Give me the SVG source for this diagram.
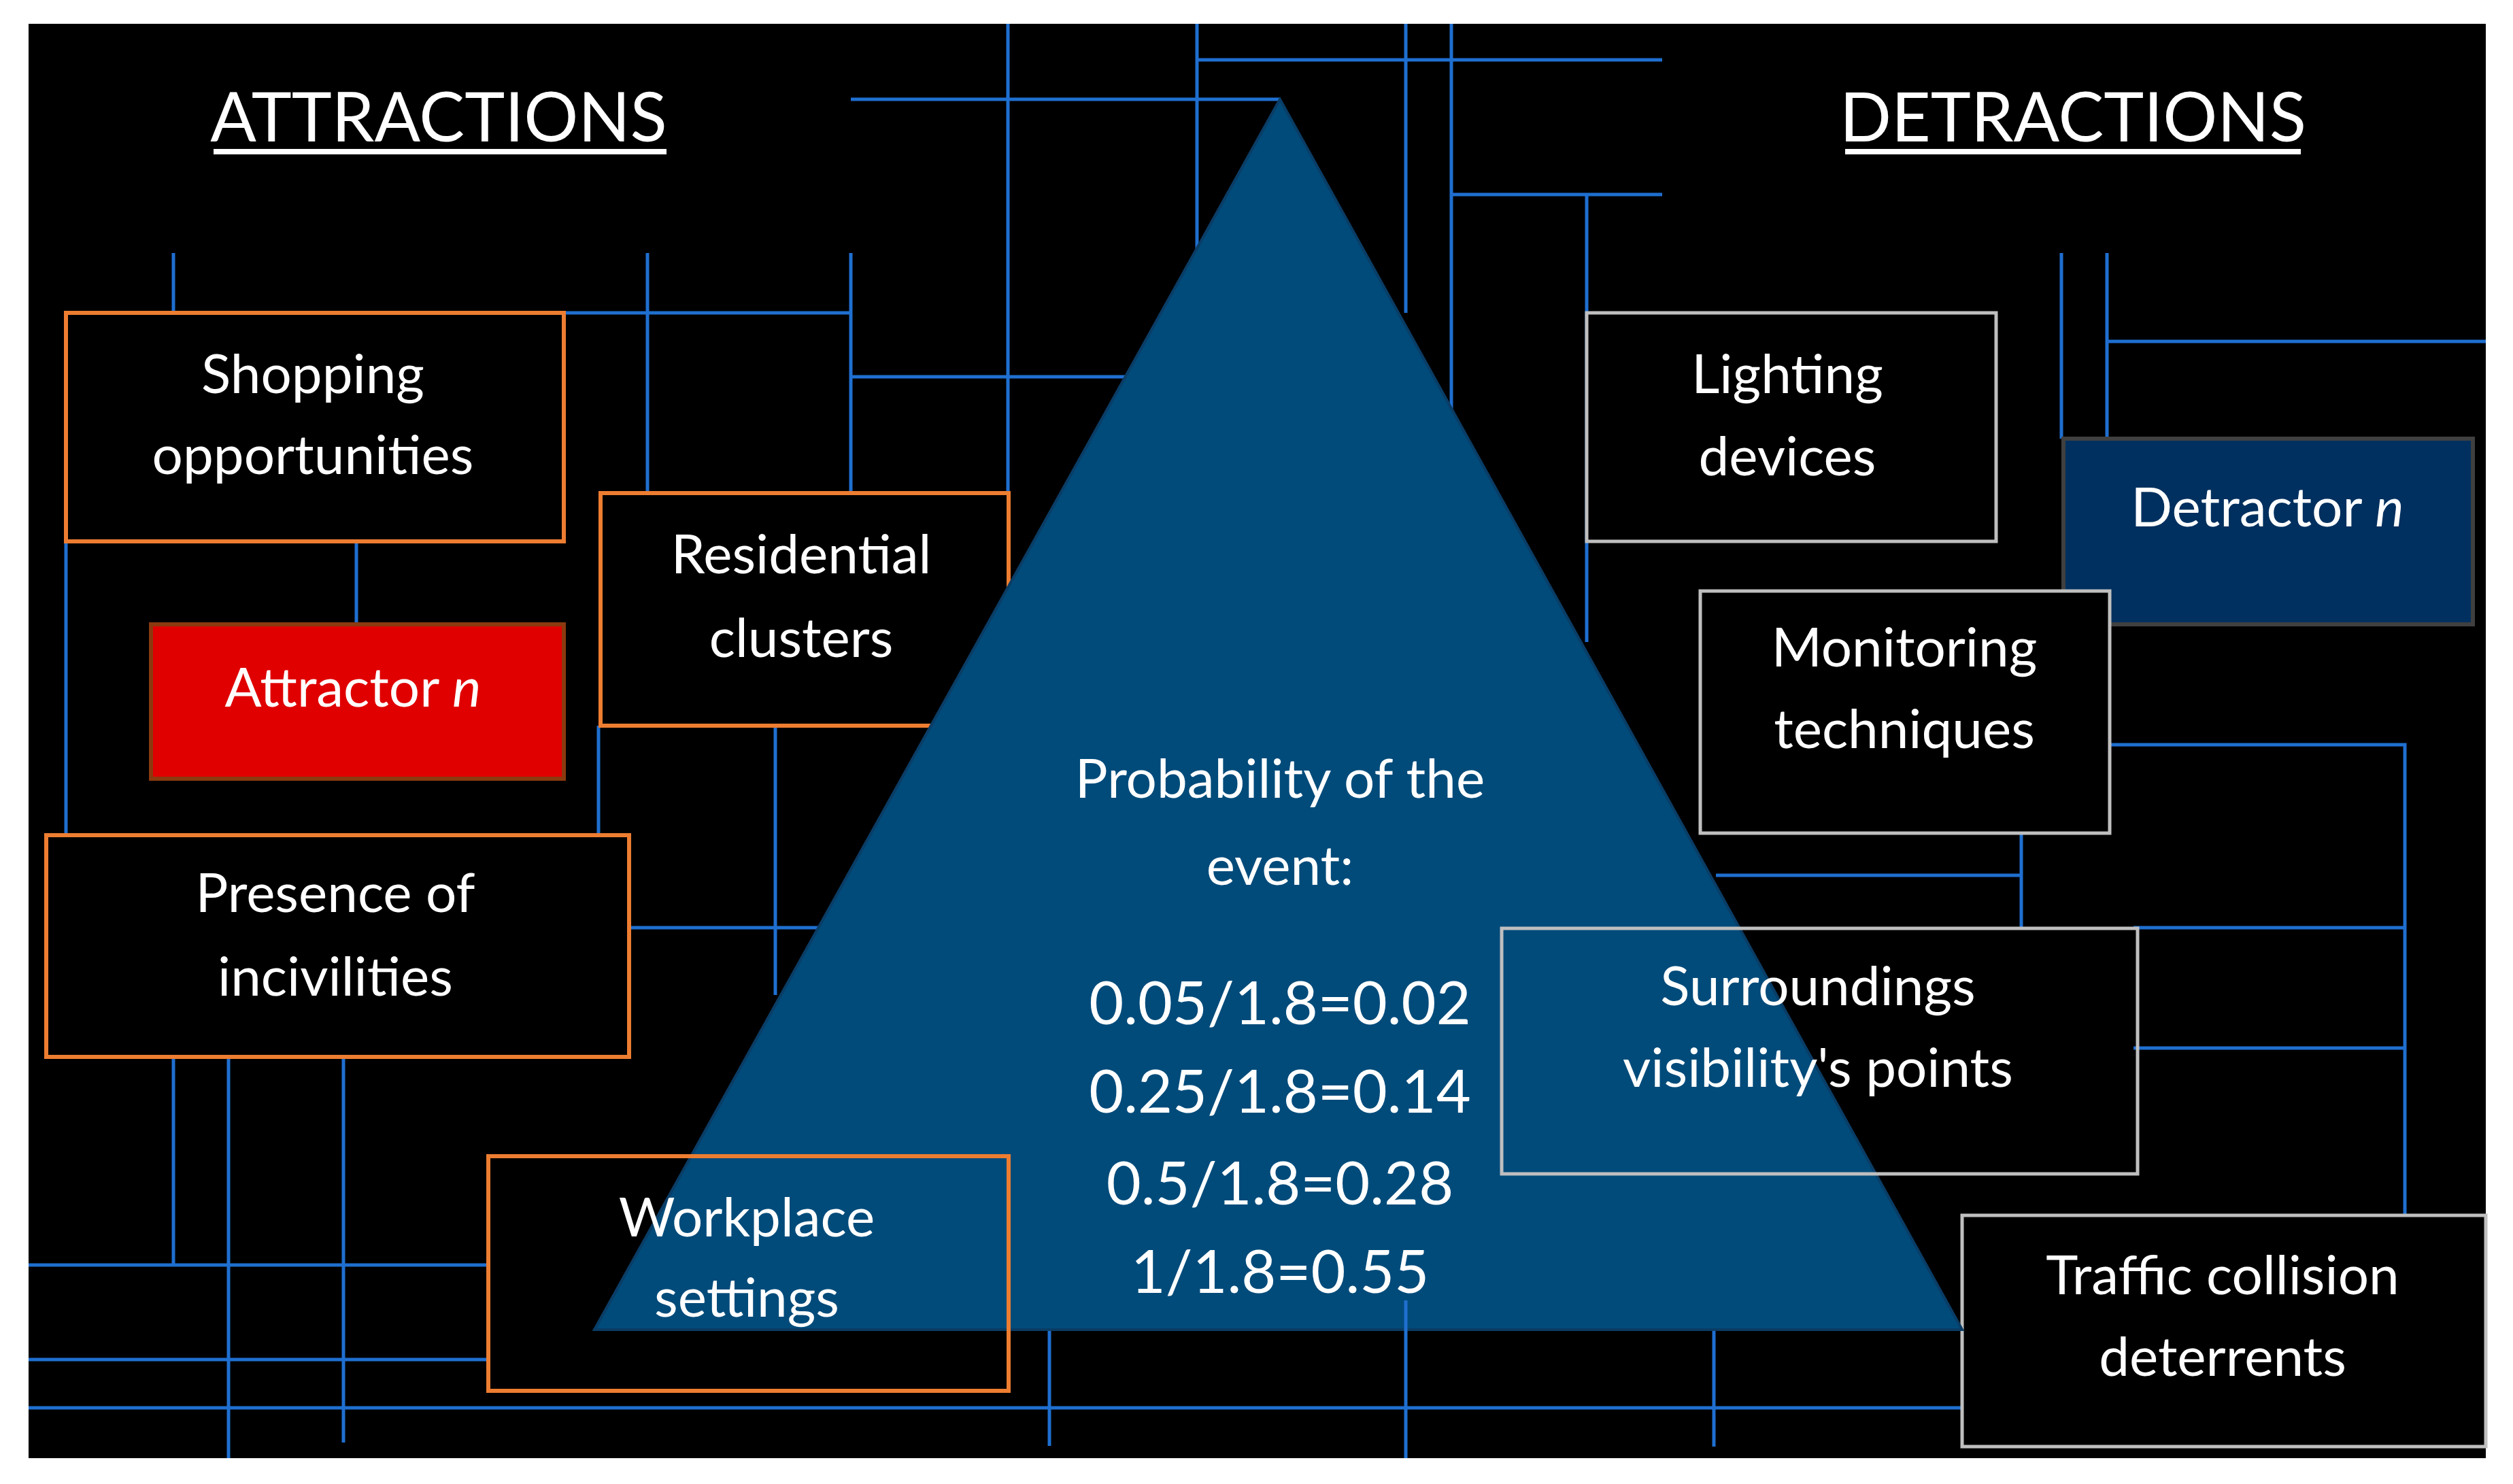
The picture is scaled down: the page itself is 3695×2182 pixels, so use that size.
<svg xmlns="http://www.w3.org/2000/svg" width="3695" height="2182" viewBox="0 0 3695 2182">
<style>
.ln{stroke:#1f6fd0;stroke-width:5;fill:none}
.ob{stroke:#ed7d31;stroke-width:6;fill:#000}
.gb{stroke:#bfbfbf;stroke-width:5;fill:#000}
.nf{fill:none}
text{font-family:Lato,"Liberation Sans",sans-serif;fill:#fff;text-anchor:middle;font-size:80px}
.hd{font-size:100px}
.num{font-size:88px}
</style>
<rect width="3695" height="2182" fill="#fff"/>
<rect x="42" y="35" width="3613" height="2109" fill="#000"/>
<g id="connectors">
<path class="ln" d="M1482 35V725M1760 35V372M1760 88H2444M1251 146H1882M2067 35V460M2134 35V614M2134 286H2444M2333 286V944M3031 372V645M3098 372V645M3098 502H3655M3098 1095H3536V1787M3137 1364H3536M3137 1541H3536M2972 1225V1364M2523 1287H2972M42 2070H2885M2520 1955V2127M97 796V1228M255 372V460M952 372V725M1251 372V725M829 460H1251M1251 554H1661M524 796V918M880 1067V1228M1140 1067V1463M925 1364H1203M255 1554V1860M336 1554V2144M505 1554V2121M42 1860H718M42 1999H718M1543 1955V2126"/>
</g>
<g id="shopping"><rect class="ob" x="97" y="460" width="732" height="336"/><text x="460" y="578">Shopping</text><text x="460" y="697">opportunities</text></g>
<g id="residential"><rect class="ob" x="883" y="725" width="600" height="342"/><text x="1178" y="843">Residential</text><text x="1178" y="966">clusters</text></g>
<g id="attractor"><rect x="222" y="918" width="607" height="227" fill="#e00000" stroke="#8b3a0f" stroke-width="6"/><text x="519" y="1039">Attractor <tspan font-style="italic">n</tspan></text></g>
<g id="presence"><rect class="ob" x="68" y="1228" width="857" height="326"/><text x="493" y="1341">Presence of</text><text x="493" y="1464">incivilities</text></g>
<g id="lighting"><rect class="gb" x="2333" y="460" width="602" height="336"/><text x="2628" y="578">Lighting</text><text x="2628" y="699">devices</text></g>
<g id="detractor"><rect x="3034" y="645" width="602" height="273" fill="#00305f" stroke="#404040" stroke-width="6"/><text x="3334" y="774">Detractor <tspan font-style="italic">n</tspan></text></g>
<g id="monitoring"><rect class="gb" x="2500" y="869" width="602" height="356"/><text x="2800" y="980">Monitoring</text><text x="2800" y="1100">techniques</text></g>
<g id="traffic"><rect class="gb" x="2885" y="1787" width="770" height="340"/><text x="3268" y="1903">Traffic collision</text><text x="3268" y="2023">deterrents</text></g>
<g id="triangle"><polygon points="1882,146 874,1955 2885,1955" fill="#004b7a" stroke="#0a3d66" stroke-width="4"/>
<text x="1882" y="1173">Probability of the</text><text x="1882" y="1301">event:</text>
<text class="num" x="1882" y="1506">0.05/1.8=0.02</text><text class="num" x="1882" y="1636">0.25/1.8=0.14</text><text class="num" x="1882" y="1771">0.5/1.8=0.28</text><text class="num" x="1882" y="1901">1/1.8=0.55</text></g>
<path class="ln" d="M2067 1912V2144"/>
<g id="workplace"><rect class="ob nf" x="718" y="1700" width="765" height="345"/><text x="1098" y="1818">Workplace</text><text x="1098" y="1936">settings</text></g>
<g id="surroundings"><rect class="gb nf" x="2208" y="1365" width="935" height="361"/><text x="2673" y="1478">Surroundings</text><text x="2673" y="1598">visibility's points</text></g>
<g id="titles"><text class="hd" x="645" y="208">ATTRACTIONS</text><rect x="314" y="219" width="666" height="8" fill="#fff"/>
<text class="hd" x="3048" y="208">DETRACTIONS</text><rect x="2713" y="219" width="670" height="8" fill="#fff"/></g>
</svg>
